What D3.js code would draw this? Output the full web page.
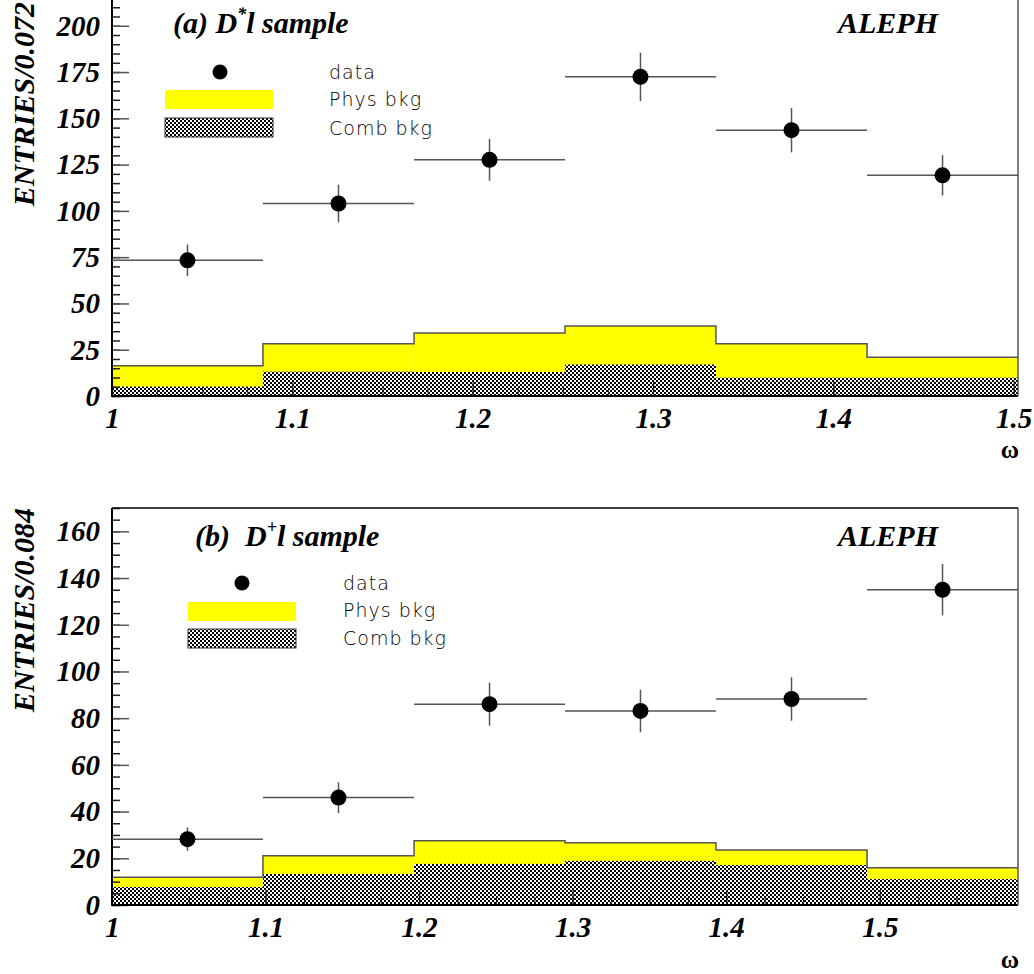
<!DOCTYPE html>
<html>
<head>
<meta charset="utf-8">
<script src="https://cdn.jsdelivr.net/npm/d3@7/dist/d3.min.js"></script>
<style>
  body { margin: 0; background: #fff; }
  svg { display: block; }
</style>
</head>
<body>
<svg id="chart" width="1034" height="974"></svg>
<script>
// ---------- Panel (a): D*l sample ----------
const edgesA = [1.0, 1.0837, 1.1675, 1.2512, 1.3349, 1.4187, 1.5024];
const dataA  = [73.3, 104, 127.6, 172.4, 143.6, 119.2];
const errA   = [8.5, 10.2, 11.3, 13.1, 12.0, 10.9];
const physA  = [16.4, 28.2, 34.0, 37.8, 28.2, 21.0];
const combA  = [5.1, 13.2, 12.9, 17.0, 9.9, 9.9];
const yTicksA = [0, 25, 50, 75, 100, 125, 150, 175, 200];
const xTicksA = [1, 1.1, 1.2, 1.3, 1.4, 1.5];

// ---------- Panel (b): D+l sample ----------
const edgesB = [1.0, 1.0983, 1.1967, 1.295, 1.3933, 1.4917, 1.59];
const dataB  = [28.2, 46.0, 86.0, 83.1, 88.2, 135.0];
const errB   = [5.0, 6.6, 9.2, 9.1, 9.3, 11.0];
const physB  = [11.9, 21.1, 27.5, 26.7, 23.6, 16.0];
const combB  = [7.7, 13.3, 17.6, 18.9, 17.1, 11.1];
const yTicksB = [0, 20, 40, 60, 80, 100, 120, 140, 160];
const xTicksB = [1, 1.1, 1.2, 1.3, 1.4, 1.5];

const legendLabels = ["data", "Phys bkg", "Comb bkg"];

const svg = d3.select("#chart");
const defs = svg.append("defs");
const pat = defs.append("pattern").attr("id", "hatch")
  .attr("width", 4).attr("height", 4).attr("patternUnits", "userSpaceOnUse");
pat.append("rect").attr("width", 4).attr("height", 4).attr("fill", "#fff");
pat.append("rect").attr("x", 0).attr("y", 0).attr("width", 2).attr("height", 2).attr("fill", "#000");
pat.append("rect").attr("x", 2).attr("y", 2).attr("width", 2).attr("height", 2).attr("fill", "#000");

const serif = '"Liberation Serif", "Times New Roman", serif';
const sans = '"DejaVu Sans", sans-serif';

function styleLabels(a) {
  a.selectAll("text")
    .attr("font-family", serif).attr("font-weight", "bold").attr("font-style", "italic")
    .attr("font-size", 29).attr("fill", "#000");
}

function drawPanel(cfg) {
  const g = svg.append("g");
  const x = d3.scaleLinear().domain(cfg.xDomain).range([cfg.left, cfg.right]);
  const y = d3.scaleLinear().domain(cfg.yDomain).range([cfg.bottom, cfg.top]);
  const bins = d3.range(cfg.edges.length - 1);

  // yellow physical background (total)
  g.selectAll(".phys").data(bins).join("rect")
    .attr("x", i => x(cfg.edges[i])).attr("width", i => x(cfg.edges[i + 1]) - x(cfg.edges[i]))
    .attr("y", i => y(cfg.phys[i])).attr("height", i => y(0) - y(cfg.phys[i]))
    .attr("fill", "#ffff00");
  // combinatorial background
  g.selectAll(".comb").data(bins).join("rect")
    .attr("x", i => x(cfg.edges[i])).attr("width", i => x(cfg.edges[i + 1]) - x(cfg.edges[i]))
    .attr("y", i => y(cfg.comb[i])).attr("height", i => y(0) - y(cfg.comb[i]))
    .attr("fill", "url(#hatch)");
  // histogram outline
  let p = `M${x(cfg.edges[0])},${y(cfg.phys[0])}`;
  bins.forEach(i => {
    if (i > 0) p += `V${y(cfg.phys[i])}`;
    p += `H${x(cfg.edges[i + 1])}`;
  });
  g.append("path").attr("d", p).attr("fill", "none").attr("stroke", "#555").attr("stroke-width", 1.5);

  // y axis
  const yMinor = d3.range(0, cfg.yDomain[1] + 0.001, cfg.yMinorStep);
  g.append("g").attr("transform", `translate(${cfg.left},0)`)
    .call(d3.axisLeft(y).tickValues(yMinor).tickFormat("").tickSizeInner(-8).tickSizeOuter(0))
    .call(a => a.select(".domain").remove())
    .call(a => a.selectAll("line").attr("stroke", "#222").attr("stroke-width", 1.5));
  g.append("g").attr("transform", `translate(${cfg.left},0)`)
    .call(d3.axisLeft(y).tickValues(cfg.yTicks).tickFormat(d3.format("d")).tickSizeInner(-17).tickSizeOuter(0).tickPadding(12))
    .call(a => a.select(".domain").remove())
    .call(a => a.selectAll("line").attr("stroke", "#555").attr("stroke-width", 1.5))
    .call(styleLabels);

  // x axis
  const xMinor = d3.range(1, cfg.xDomain[1] + 0.0001, 0.025);
  g.append("g").attr("transform", `translate(0,${cfg.bottom})`)
    .call(d3.axisBottom(x).tickValues(xMinor).tickFormat("").tickSizeInner(-8).tickSizeOuter(0))
    .call(a => a.select(".domain").remove())
    .call(a => a.selectAll("line").attr("stroke", "#222").attr("stroke-width", 1));
  g.append("g").attr("transform", `translate(0,${cfg.bottom})`)
    .call(d3.axisBottom(x).tickValues(cfg.xTicks).tickFormat(d => d === 1 ? "1" : d3.format(".1f")(d)).tickSizeInner(-15).tickSizeOuter(0).tickPadding(11))
    .call(a => a.select(".domain").remove())
    .call(a => a.selectAll("line").attr("stroke", "#222").attr("stroke-width", 1.2))
    .call(styleLabels);

  // frame
  g.append("line").attr("x1", cfg.left).attr("x2", cfg.left).attr("y1", cfg.top).attr("y2", cfg.bottom + 1)
    .attr("stroke", "#000").attr("stroke-width", 2);
  g.append("line").attr("x1", cfg.left).attr("x2", cfg.right).attr("y1", cfg.bottom).attr("y2", cfg.bottom)
    .attr("stroke", "#000").attr("stroke-width", 2);
  g.append("line").attr("x1", cfg.right).attr("x2", cfg.right).attr("y1", cfg.top).attr("y2", cfg.bottom)
    .attr("stroke", "#555").attr("stroke-width", 1.5);
  g.append("line").attr("x1", cfg.left).attr("x2", cfg.right).attr("y1", cfg.top).attr("y2", cfg.top)
    .attr("stroke", "#000").attr("stroke-width", 1.5);

  // data points with error bars
  const pts = g.append("g");
  bins.forEach(i => {
    const cx = x((cfg.edges[i] + cfg.edges[i + 1]) / 2);
    pts.append("line").attr("x1", x(cfg.edges[i])).attr("x2", x(cfg.edges[i + 1]))
      .attr("y1", y(cfg.data[i])).attr("y2", y(cfg.data[i]))
      .attr("stroke", "#555").attr("stroke-width", 1.5);
    pts.append("line").attr("x1", cx).attr("x2", cx)
      .attr("y1", y(cfg.data[i] - cfg.err[i])).attr("y2", y(cfg.data[i] + cfg.err[i]))
      .attr("stroke", "#555").attr("stroke-width", 1.5);
    pts.append("circle").attr("cx", cx).attr("cy", y(cfg.data[i])).attr("r", 8).attr("fill", "#000");
  });

  // y-axis title
  g.append("text")
    .attr("transform", `translate(${cfg.yTitleX},${cfg.yTitleTop}) rotate(-90)`)
    .attr("text-anchor", "end").attr("dy", "0.35em")
    .attr("font-family", serif).attr("font-weight", "bold").attr("font-style", "italic")
    .attr("font-size", 30).text(cfg.yTitle);

  // x-axis title
  g.append("text").attr("x", 1010).attr("y", cfg.omegaY).attr("text-anchor", "middle")
    .attr("font-family", serif).attr("font-weight", "bold").attr("font-size", 25).text("ω");

  // panel title
  const t = g.append("text").attr("x", cfg.titleX).attr("y", cfg.titleY)
    .attr("font-family", serif).attr("font-weight", "bold").attr("font-style", "italic").attr("font-size", 30)
    .attr("xml:space", "preserve");
  t.append("tspan").text(cfg.titlePre);
  t.append("tspan").attr("font-size", 18).attr("dy", -13).text(cfg.titleSup);
  t.append("tspan").attr("dy", 13).text(cfg.titlePost);

  g.append("text").attr("x", 838).attr("y", cfg.titleY)
    .attr("font-family", serif).attr("font-weight", "bold").attr("font-style", "italic").attr("font-size", 30)
    .text("ALEPH");

  // legend
  const L = cfg.legend;
  g.append("circle").attr("cx", L.dotX).attr("cy", L.dotY).attr("r", 7.5).attr("fill", "#000");
  g.append("rect").attr("x", L.boxX).attr("y", L.physY).attr("width", 108).attr("height", 19).attr("fill", "#ffff00");
  g.append("rect").attr("x", L.boxX).attr("y", L.combY).attr("width", 108).attr("height", 19)
    .attr("fill", "url(#hatch)").attr("stroke", "#333").attr("stroke-width", 1);
  legendLabels.forEach((lab, k) => {
    g.append("text").attr("x", L.textX).attr("y", L.textY[k])
      .attr("font-family", sans).attr("font-weight", 300).attr("font-size", 19)
      .attr("letter-spacing", 1).attr("fill", "#000").text(lab);
  });
}

drawPanel({
  edges: edgesA, data: dataA, err: errA, phys: physA, comb: combA,
  yTicks: yTicksA, xTicks: xTicksA, yMinorStep: 5,
  xDomain: [1, 1.5024], yDomain: [0, 215],
  left: 112, right: 1018, top: -2, bottom: 396,
  yTitle: "ENTRIES/0.072", yTitleX: 23, yTitleTop: 2, omegaY: 458,
  titleX: 173, titleY: 33, titlePre: "(a) D", titleSup: "*", titlePost: "l sample",
  legend: { dotX: 220, dotY: 72, boxX: 165, physY: 90, combY: 118, textX: 329, textY: [79, 106, 135] }
});

drawPanel({
  edges: edgesB, data: dataB, err: errB, phys: physB, comb: combB,
  yTicks: yTicksB, xTicks: xTicksB, yMinorStep: 5,
  xDomain: [1, 1.59], yDomain: [0, 170],
  left: 112, right: 1018, top: 508, bottom: 905,
  yTitle: "ENTRIES/0.084", yTitleX: 23, yTitleTop: 508, omegaY: 968,
  titleX: 195, titleY: 546, titlePre: "(b)  D", titleSup: "+", titlePost: "l sample",
  legend: { dotX: 242, dotY: 583, boxX: 188, physY: 602, combY: 629, textX: 343, textY: [590, 617, 645] }
});
</script>
</body>
</html>
